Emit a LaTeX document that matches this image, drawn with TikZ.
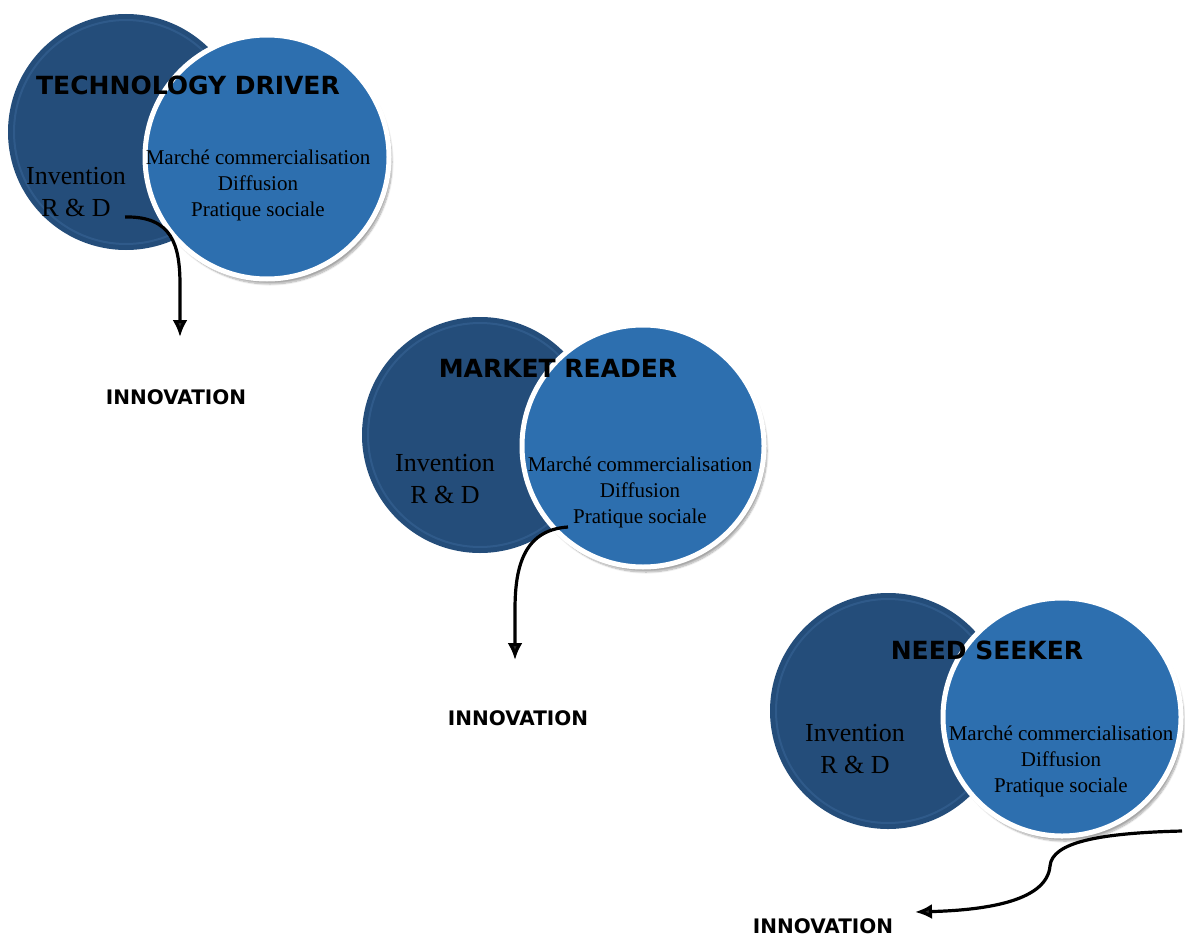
\documentclass[tikz,border=0pt]{standalone}
\usepackage{fontspec}
\setmainfont{Liberation Serif}
\newfontfamily\headfont{DejaVu Sans}
\usetikzlibrary{arrows.meta,shadows.blur}
\definecolor{rdblue}{RGB}{36,77,122}
\definecolor{rdrim}{RGB}{62,108,158}
\definecolor{mkblue}{RGB}{45,111,175}
\tikzset{
  rdcircle/.style={fill=rdblue, draw=none},
  rdbevel/.style={draw=rdrim, line width=2pt, opacity=0.45},
  mkcircle/.style={fill=mkblue, draw=white, line width=5pt,
    blur shadow={shadow xshift=3pt, shadow yshift=-5pt, shadow blur steps=10, shadow opacity=35}},
  title/.style={font=\headfont\bfseries\fontsize{25}{25}\selectfont, text=black, inner sep=0pt},
  rdtext/.style={font=\fontsize{26}{32}\selectfont, align=center, text=black, inner sep=0pt},
  mktext/.style={font=\fontsize{21}{26}\selectfont, align=center, text=black, inner sep=0pt},
  outcome/.style={font=\headfont\bfseries\fontsize{20}{20}\selectfont, text=black, inner sep=0pt},
  flow/.style={line width=3.2pt, -{Latex[length=17pt,width=15pt]}}
}
\begin{document}
\begin{tikzpicture}[x=1pt,y=-1pt]
\useasboundingbox (0,0) rectangle (1185,936);

% ---------- Technology driver ----------
\fill[rdcircle] (126,132) circle (118);
\draw[rdbevel] (126,132) circle (112);
\fill[mkcircle] (267,157) circle (122);
\node[title] (td) at (188,85) {TECHNOLOGY DRIVER};
\node[rdtext] (tdrd) at (76,192) {Invention\\R \& D};
\node[mktext] (tdmk) at (258,185) {Marché commercialisation\\Diffusion\\Pratique sociale};
\node[outcome] (tdin) at (176,397) {INNOVATION};
\coordinate (tdstart) at (125,217);
\coordinate (tdend) at (180,337);
\draw[flow] (tdstart) .. controls (172,216) and (180,245) .. (180,285) -- (tdend);

% ---------- Market reader ----------
\fill[rdcircle] (480,435) circle (118);
\draw[rdbevel] (480,435) circle (112);
\fill[mkcircle] (643,446) circle (121);
\node[title] (mr) at (558,368) {MARKET READER};
\node[rdtext] (mrrd) at (445,479) {Invention\\R \& D};
\node[mktext] (mrmk) at (640,492) {Marché commercialisation\\Diffusion\\Pratique sociale};
\node[outcome] (mrin) at (518,718) {INNOVATION};
\coordinate (mrstart) at (568,527);
\coordinate (mrend) at (515,660);
\draw[flow] (mrstart) .. controls (522,530) and (515,570) .. (515,610) -- (mrend);

% ---------- Need seeker ----------
\fill[rdcircle] (888,711) circle (118);
\draw[rdbevel] (888,711) circle (112);
\fill[mkcircle] (1062,717) circle (119);
\node[title] (ns) at (987,650) {NEED SEEKER};
\node[rdtext] (nsrd) at (855,749) {Invention\\R \& D};
\node[mktext] (nsmk) at (1061,761) {Marché commercialisation\\Diffusion\\Pratique sociale};
\node[outcome] (nsin) at (823,926) {INNOVATION};
\coordinate (nsstart) at (1182,831);
\coordinate (nsend) at (915,912);
\draw[flow] (nsstart) .. controls (1100,833) and (1052,842) .. (1050,866)
  .. controls (1047,900) and (990,910) .. (nsend);
\end{tikzpicture}
\end{document}
